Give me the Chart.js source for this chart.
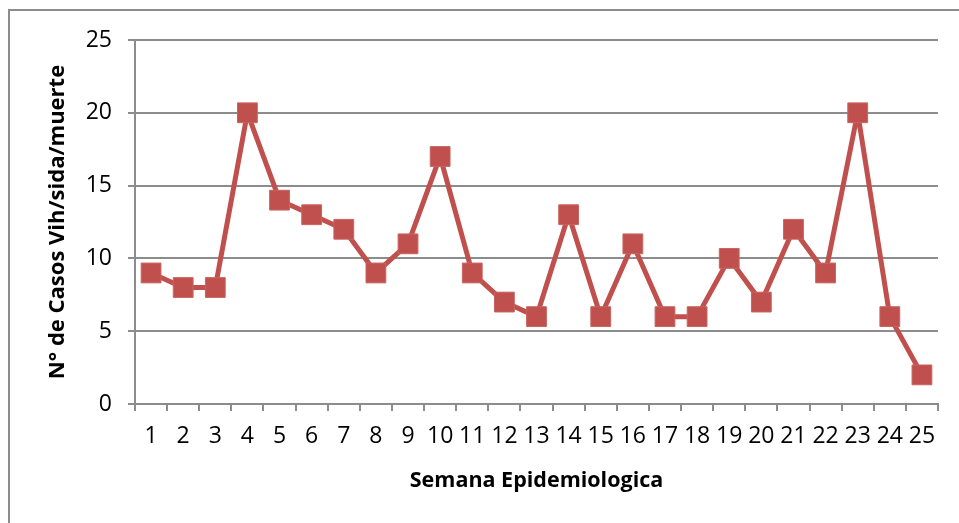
<!DOCTYPE html>
<html>
<head>
<meta charset="utf-8">
<script src="https://cdn.jsdelivr.net/npm/chart.js@4"></script>
<style>
  html, body { margin: 0; padding: 0; background: #fff; }
  #wrap { position: relative; width: 959px; height: 523px; overflow: hidden; }
  #frame { position: absolute; left: 8px; top: 9px; width: 960px; height: 530px; border: 2px solid #8c8c8c; box-sizing: border-box; }
  canvas { position: absolute; left: 0; top: 0; }
</style>
</head>
<body>
<div id="wrap">
  <div id="frame"></div>
  <canvas id="myChart" width="959" height="523"></canvas>
</div>
<script>
// weeks and cases
let semanas = ['1','2','3','4','5','6','7','8','9','10','11','12','13','14','15','16','17','18','19','20','21','22','23','24','25'];
let casos = [9, 8, 8, 20, 14, 13, 12, 9, 11, 17, 9, 7, 6, 13, 6, 11, 6, 6, 10, 7, 12, 9, 20, 6, 2];
let yTicks = [0, 5, 10, 15, 20, 25];

let red = '#C0504D';
let grey = '#8c8c8c';
let fam = "'Open Sans', sans-serif";

myChart = new Chart(document.getElementById('myChart'), {
    type: 'line',
    data: {
        labels: semanas,
        datasets: [{
            label: 'Casos',
            data: casos,
            borderColor: red,
            backgroundColor: red,
            borderWidth: 5,
            borderJoinStyle: 'bevel',
            pointStyle: 'rect',
            pointRadius: 14,
            pointBorderWidth: 1,
            pointBorderColor: '#c96460',
            tension: 0
        }]
    },
    options: {
        responsive: false,
        animation: false,
        layout: { padding: { top: 40, right: 21, left: 0, bottom: 0 } },
        plugins: { legend: { display: false }, tooltip: { enabled: false } },
        scales: {
            x: {
                offset: true,
                grid: { offset: true, drawOnChartArea: false, drawTicks: true, tickLength: 7, color: grey, lineWidth: 2 },
                border: { color: grey, width: 2 },
                ticks: { color: '#000', font: { family: fam, size: 23 }, padding: 12, maxRotation: 0, autoSkip: false },
                title: { display: true, text: 'Semana Epidemiologica', color: '#000', font: { family: fam, size: 21.5, weight: 'bold' }, padding: { top: 8, bottom: 29 } },
                afterFit: function (scale) { scale.height = 119; }
            },
            y: {
                min: 0,
                max: 25,
                afterBuildTicks: function (scale) { scale.ticks = yTicks.map(v => ({ value: v })); },
                grid: { tickLength: 7, color: grey, lineWidth: 2 },
                border: { color: grey, width: 2 },
                ticks: { color: '#000', font: { family: fam, size: 23 }, padding: 16 },
                title: { display: true, text: 'N° de Casos Vih/sida/muerte', color: '#000', font: { family: fam, size: 22, weight: 'bold' }, padding: { top: 45, bottom: 0 } },
                afterFit: function (scale) { scale.width = 135; }
            }
        }
    }
});
</script>
</body>
</html>
